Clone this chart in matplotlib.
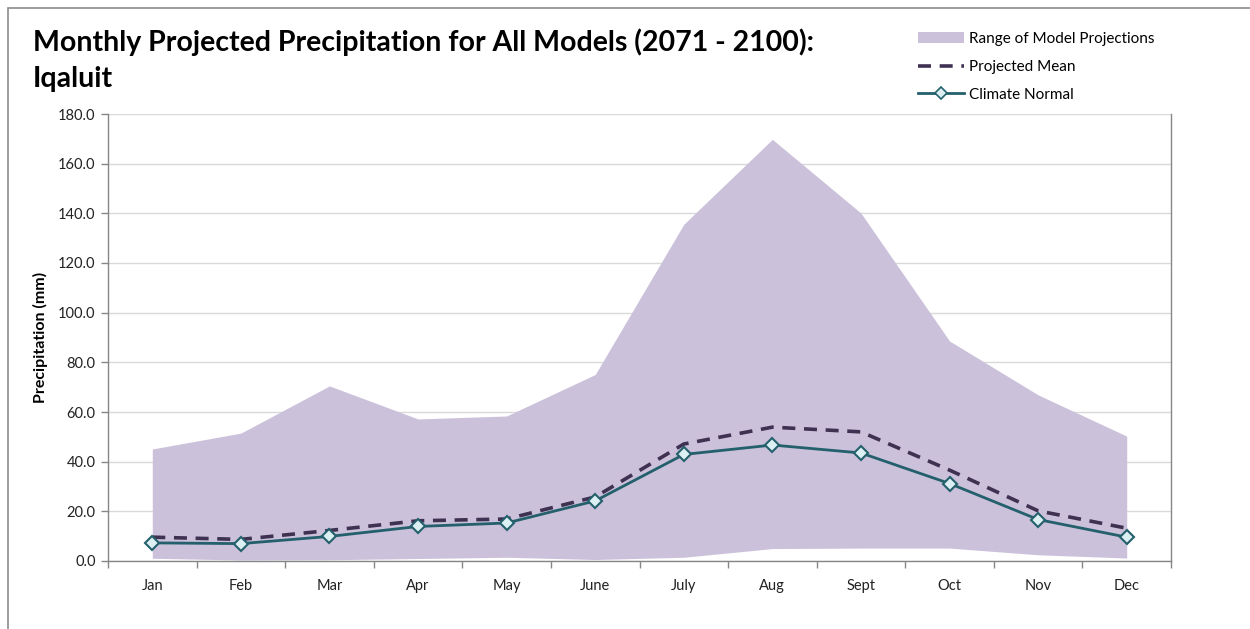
import numpy as np
import matplotlib.pyplot as plt
from matplotlib.lines import Line2D
from matplotlib.patches import Patch, Rectangle

months = ["Jan", "Feb", "Mar", "Apr", "May", "June", "July", "Aug", "Sept", "Oct", "Nov", "Dec"]
range_high = [45.1, 51.5, 70.5, 57.2, 58.4, 75.1, 135.6, 169.8, 140.1, 88.6, 66.9, 50.3]
range_low = [1.1, 0.4, 0.5, 1.0, 1.5, 0.6, 1.5, 5.0, 5.2, 5.2, 2.5, 1.2]
projected_mean = [9.6, 8.7, 12.3, 16.2, 16.9, 25.8, 47.1, 53.9, 52.0, 36.6, 20.2, 13.2]
climate_normal = [7.3, 7.0, 9.9, 13.9, 15.3, 24.2, 42.9, 46.7, 43.5, 31.2, 16.7, 9.6]

FILL = "#cbc1da"
MEAN = "#3f3151"
NORMAL = "#23606c"
MARKER_FACE = "#dcf0f3"
AXIS = "#868686"

plt.rcParams["font.family"] = ["Lato", "DejaVu Sans"]

fig = plt.figure(figsize=(12.5, 6.29), dpi=100)
ax = fig.add_axes([108 / 1250, 68 / 629, 1063 / 1250, 447 / 629])

x = np.arange(len(months))
ax.fill_between(x, range_low, range_high, color=FILL, linewidth=0, zorder=1)
ax.plot(x, projected_mean, color=MEAN, linewidth=2.6, dashes=(3.6, 2.4), zorder=3)
ax.plot(x, climate_normal, color=NORMAL, linewidth=2.0, marker="D", markersize=7.5,
        markerfacecolor=MARKER_FACE, markeredgecolor=NORMAL, markeredgewidth=1.5, zorder=4)

ax.set_xlim(-0.5, len(months) - 0.5)
ax.set_ylim(0, 180)
ax.set_yticks(np.arange(0, 181, 20))
ax.set_yticklabels([f"{v:.1f}" for v in np.arange(0, 181, 20)], fontsize=10.5, color="#222222")
ax.yaxis.grid(True, color="#d9d9d9", linewidth=1.0, zorder=0)
ax.set_axisbelow(True)

ax.set_xticks(x)
ax.set_xticklabels(months, fontsize=10.5, color="#222222")
ax.tick_params(axis="x", length=0, pad=13)
ax.set_xticks(np.arange(-0.5, len(months), 1), minor=True)
ax.tick_params(axis="x", which="minor", length=5, color=AXIS, width=1)
ax.tick_params(axis="y", length=5, color=AXIS, width=1, pad=4)

for side in ["left", "bottom", "right"]:
    ax.spines[side].set_color(AXIS)
    ax.spines[side].set_linewidth(1.0)
ax.spines["top"].set_visible(False)

ax.set_ylabel("Precipitation (mm)", fontsize=11.5, fontweight="bold", labelpad=7)

fig.text(33 / 1250, 1 - 60 / 629, "Monthly Projected Precipitation for All Models (2071 - 2100):\nIqaluit",
         fontsize=20.5, fontweight="bold", ha="left", va="center", linespacing=1.45)

handles = [
    Patch(facecolor=FILL, edgecolor="none"),
    Line2D([], [], color=MEAN, linewidth=2.6, dashes=(3.6, 2.4)),
    Line2D([], [], color=NORMAL, linewidth=2.0, marker="D", markersize=6,
           markerfacecolor=MARKER_FACE, markeredgecolor=NORMAL, markeredgewidth=1.2),
]
labels = ["Range of Model Projections", "Projected Mean", "Climate Normal"]
fig.legend(handles, labels, loc="upper left", bbox_to_anchor=(912 / 1250, 1 - 26 / 629),
           frameon=False, fontsize=11, handlelength=3.0, handletextpad=0.3,
           labelspacing=0.9, borderaxespad=0)

fig.patches.append(Rectangle((8 / 1250, -0.1), 1.2, 1.1 - 8 / 629, transform=fig.transFigure,
                             fill=False, edgecolor="#8c8c8c", linewidth=1.2))

fig.savefig("out.png", dpi=100)
